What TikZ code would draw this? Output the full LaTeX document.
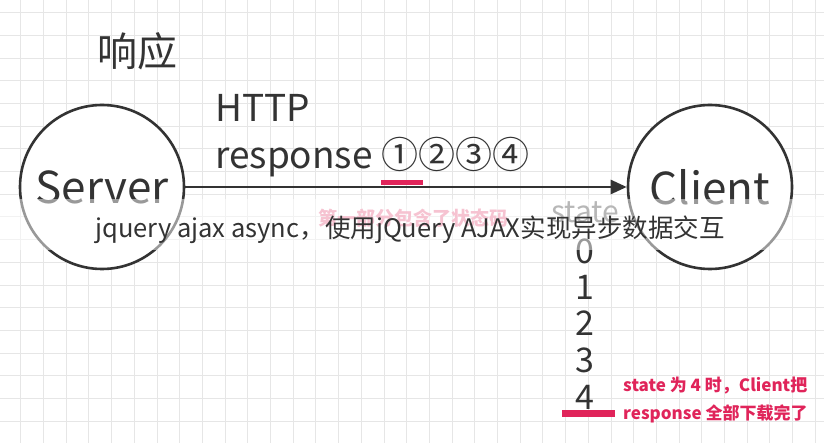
\documentclass[tikz,border=0pt]{standalone}
\usepackage{fontspec}
\setmainfont{Noto Sans CJK SC}
\usetikzlibrary{arrows.meta}
\definecolor{ink}{HTML}{333333}
\definecolor{pinkred}{HTML}{E0245A}
\definecolor{gridc}{HTML}{E6E6E6}
\tikzset{
  entity/.style={circle,draw=ink,line width=2.6pt,minimum size=164pt,inner sep=0pt,fill=white,text=ink,font=\fontsize{44}{48}\selectfont},
  big/.style={text=ink,inner sep=0pt,anchor=base west,font=\fontsize{37}{41}\selectfont},
  digit/.style={text=ink,inner sep=0pt,font=\fontsize{34}{38}\selectfont},
  note/.style={text=pinkred,inner sep=0pt,anchor=base west,font=\bfseries\fontsize{17}{20}\selectfont},
}
\begin{document}
\begin{tikzpicture}[x=1pt,y=-1pt]
\useasboundingbox (0,0) rectangle (824,443);
\fill[white] (0,0) rectangle (824,443);
% grid
\foreach \i in {0,...,36} {\draw[gridc,line width=0.8pt] (20.7+22.7*\i,0) -- (20.7+22.7*\i,443);}
\foreach \j in {0,...,19} {\draw[gridc,line width=0.8pt] (0,12.6+22.7*\j) -- (824,12.6+22.7*\j);}
% title
\node[text=ink,inner sep=0pt,font=\fontsize{40}{44}\selectfont] (resp) at (137,51) {响应};
% circles
\node[entity] (server) at (102,187) {Server};
\node[entity] (client) at (710,187) {Client};
\draw[ink,line width=2.6pt,-{Triangle[length=16pt,width=14pt]}] (server) -- (client);
% http
\node[big] (http) at (215,122) {HTTP};
\node[big] (response) at (215,169) {response ①②③④};
\fill[pinkred] (381,180) rectangle (423,185.5);
% faded notes
\node[text=pinkred!55,inner sep=0pt,anchor=base west,font=\bfseries\fontsize{19}{22}\selectfont] (part1) at (318,226) {第一部分包含了状态码};
\node[text=ink!70,inner sep=0pt,font=\fontsize{30}{34}\selectfont] (state) at (585,212) {state};
% digits
\node[digit] (d0) at (585,251) {0};
\node[digit] (d1) at (585,287) {1};
\node[digit] (d2) at (585,323) {2};
\node[digit] (d3) at (585,360) {3};
\node[digit] (d4) at (585,397) {4};
\fill[pinkred] (562,410) rectangle (615,417);
\node[note] (n1) at (623,391) {state 为 4 时，Client把};
\node[note] (n2) at (623,419) {response 全部下载完了};
% caption overlay
\fill[white,opacity=0.5] (0,199) rectangle (824,250);
\node[text=ink,inner sep=0pt,anchor=base west,font=\fontsize{25.5}{29}\selectfont] (cap) at (95,238) {jquery ajax async，使用jQuery AJAX实现异步数据交互};
\end{tikzpicture}
\end{document}
